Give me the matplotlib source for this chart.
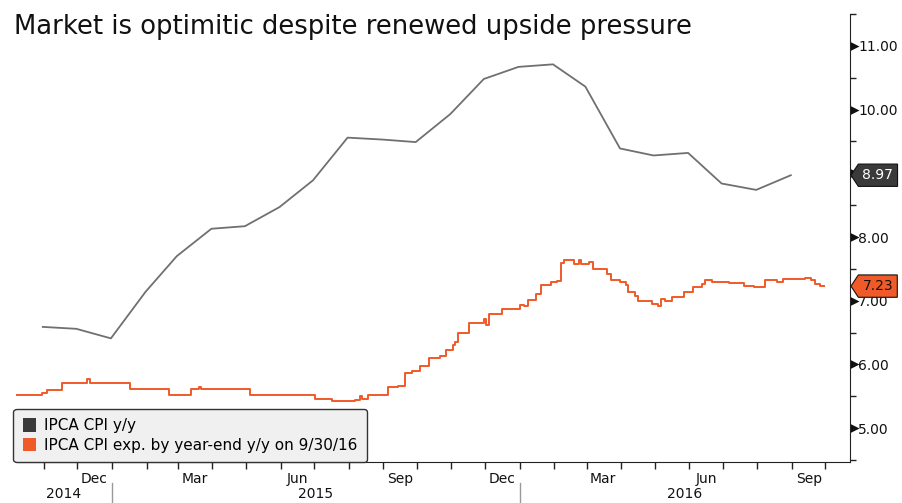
import matplotlib
matplotlib.use('Agg')
import matplotlib.pyplot as plt
import matplotlib.dates as mdates
import matplotlib.transforms as mtransforms
from matplotlib.patches import Patch
from matplotlib.path import Path
import numpy as np
import pandas as pd

# IPCA CPI y/y, monthly (end of month)
cpi_dates = pd.date_range('2014-10-31', '2016-08-31', freq='ME')
cpi_vals = [6.59, 6.56, 6.41, 7.14, 7.70, 8.13, 8.17, 8.47, 8.89, 9.56, 9.53, 9.49,
            9.93, 10.48, 10.67, 10.71, 10.36, 9.39, 9.28, 9.32, 8.84, 8.74, 8.97]

# IPCA expectation for year-end (survey), change points
exp_dates = ['2014-10-07', '2014-10-30', '2014-11-04', '2014-11-17', '2014-12-10', '2014-12-12',
             '2015-01-17', '2015-02-21', '2015-03-13', '2015-03-20', '2015-03-22', '2015-05-05',
             '2015-07-02', '2015-07-17', '2015-08-07', '2015-08-11', '2015-08-13', '2015-08-18',
             '2015-09-05', '2015-09-14', '2015-09-20', '2015-09-27', '2015-10-04', '2015-10-12',
             '2015-10-22', '2015-10-27', '2015-11-02', '2015-11-04', '2015-11-07', '2015-11-17',
             '2015-11-30', '2015-12-02', '2015-12-05', '2015-12-16', '2016-01-01', '2016-01-05',
             '2016-01-09', '2016-01-16', '2016-01-20', '2016-01-29', '2016-02-04', '2016-02-07',
             '2016-02-10', '2016-02-19', '2016-02-23', '2016-02-25', '2016-03-03', '2016-03-07',
             '2016-03-19', '2016-03-23', '2016-03-31', '2016-04-05', '2016-04-07', '2016-04-13',
             '2016-04-16', '2016-04-29', '2016-05-04', '2016-05-07', '2016-05-10', '2016-05-17',
             '2016-05-27', '2016-06-04', '2016-06-12', '2016-06-15', '2016-06-21', '2016-07-07',
             '2016-07-20', '2016-07-29', '2016-08-08', '2016-08-19', '2016-08-24', '2016-09-13',
             '2016-09-18', '2016-09-22', '2016-09-26', '2016-09-30']
exp_vals = [5.52, 5.55, 5.60, 5.71, 5.77, 5.71,
            5.61, 5.52, 5.61, 5.64, 5.61, 5.52,
            5.46, 5.42, 5.44, 5.51, 5.46, 5.52,
            5.65, 5.67, 5.86, 5.90, 5.98, 6.10,
            6.13, 6.23, 6.30, 6.35, 6.50, 6.65,
            6.71, 6.62, 6.80, 6.87, 6.94, 6.92,
            7.01, 7.10, 7.25, 7.29, 7.31, 7.60,
            7.64, 7.57, 7.64, 7.58, 7.61, 7.50,
            7.42, 7.32, 7.30, 7.25, 7.13, 7.08,
            7.00, 6.95, 6.92, 7.03, 7.00, 7.06,
            7.13, 7.22, 7.26, 7.32, 7.30, 7.28,
            7.23, 7.21, 7.32, 7.30, 7.34, 7.36,
            7.32, 7.27, 7.23, 7.23]
exp_dates = pd.to_datetime(exp_dates)

title = 'Market is optimitic despite renewed upside pressure'
labels = ['IPCA CPI y/y', 'IPCA CPI exp. by year-end y/y on 9/30/16']
ytick_vals = [5, 6, 7, 8, 9, 10, 11]
gray = '#707070'
gray_dark = '#3a3a3a'
orange = '#f05a28'

plt.rcParams['font.family'] = 'DejaVu Sans'

fig = plt.figure(figsize=(9.03, 5.03), dpi=100)
ax = fig.add_axes([16/903, 1 - 462/503, (850-16)/903, (462-14)/503])

ax.plot(cpi_dates, cpi_vals, color=gray, lw=1.3)
ax.plot(exp_dates, exp_vals, color=orange, lw=1.4, drawstyle='steps-post')

ax.set_xlim(pd.Timestamp('2014-10-07'), pd.Timestamp('2016-10-23'))
ax.set_ylim(4.47, 11.47)

for s in ['top', 'left']:
    ax.spines[s].set_visible(False)
ax.spines['bottom'].set_color('#222222')
ax.spines['right'].set_color('#222222')

# y axis on the right with triangle ticks; 9.00 sits under the last-value tag
ax.yaxis.tick_right()
ax.set_yticks(ytick_vals)
ax.set_yticklabels(['' if v == 9 else f'{v:.2f}' for v in ytick_vals])
ax.set_yticks(np.arange(4.5, 11.6, 1), minor=True)
ax.tick_params(axis='y', which='major', length=0, pad=6, labelsize=10, colors='#111111')
ax.tick_params(axis='y', which='minor', length=4, width=1, colors='#222222')
tri = Path([(0, -0.5), (1, 0), (0, 0.5), (0, -0.5)], closed=True)
for t in ax.yaxis.get_major_ticks():
    t.tick2line.set_marker(tri)
    t.tick2line.set_markersize(13)
    t.tick2line.set_color('#111111')
    t.tick2line.set_markeredgewidth(0)

# x axis: month ticks, quarter-month labels
ax.xaxis.set_major_locator(mdates.MonthLocator())
ax.xaxis.set_major_formatter(matplotlib.ticker.NullFormatter())
ax.xaxis.set_minor_locator(mdates.MonthLocator(bymonth=[3, 6, 9, 12], bymonthday=16))
ax.xaxis.set_minor_formatter(mdates.DateFormatter('%b'))
ax.tick_params(axis='x', which='major', length=5, width=1, colors='#222222')
ax.tick_params(axis='x', which='minor', length=0, pad=7, labelsize=10, labelcolor='#111111')

# year labels and separators
trans = mtransforms.blended_transform_factory(ax.transData, ax.transAxes)
ax_h = (462 - 14)
x0, x1 = ax.get_xlim()
edges = [x0] + [mdates.date2num(pd.Timestamp(f'{y}-01-01')) for y in (2015, 2016)] + [x1]
years = ['2014', '2015', '2016']
for i, yr in enumerate(years):
    mid = (edges[i] + edges[i + 1]) / 2
    ax.text(mid, -32 / ax_h, yr, transform=trans, ha='center', va='center',
            fontsize=10, color='#111111')
for e in edges[1:-1]:
    ax.plot([e, e], [-21 / ax_h, -41 / ax_h], transform=trans, color='#999999',
            lw=1, clip_on=False)


def tag_box(x0, y0, width, height, mutation_size):
    pad = 0.3 * mutation_size
    l, r = x0 - pad, x0 + width + pad
    b, t = y0 - pad, y0 + height + pad
    tip = 0.33 * (t - b)
    return Path([(l - tip, (b + t) / 2), (l, t), (r, t), (r, b), (l, b),
                 (l - tip, (b + t) / 2)], closed=True)


ax.annotate(f'{cpi_vals[-1]:.2f}', xy=(1, cpi_vals[-1]), xycoords=('axes fraction', 'data'),
            xytext=(9, 0), textcoords='offset points', va='center', ha='left',
            fontsize=10, color='white', annotation_clip=False,
            bbox=dict(boxstyle=tag_box, fc=gray_dark, ec='#111111', lw=0.8))
ax.annotate(f'{exp_vals[-1]:.2f}', xy=(1, exp_vals[-1]), xycoords=('axes fraction', 'data'),
            xytext=(9, 0), textcoords='offset points', va='center', ha='left',
            fontsize=10, color='#111111', annotation_clip=False,
            bbox=dict(boxstyle=tag_box, fc=orange, ec='#111111', lw=0.8))

handles = [Patch(facecolor=gray_dark), Patch(facecolor=orange)]
leg = ax.legend(handles, labels, loc='lower left', bbox_to_anchor=(-0.003, 0),
                borderaxespad=0, fontsize=11, handlelength=0.9, handleheight=1.0,
                handletextpad=0.5, labelspacing=0.3, borderpad=0.6,
                fancybox=True, framealpha=1)
leg.get_frame().set_facecolor('#f0f0f0')
leg.get_frame().set_edgecolor('#333333')
leg.get_frame().set_linewidth(1)
leg.set_zorder(5)

fig.text(14/903, 1 - 27/503, title, fontsize=18.6, va='center', ha='left', color='#111111')

fig.savefig('out.png', dpi=100)
